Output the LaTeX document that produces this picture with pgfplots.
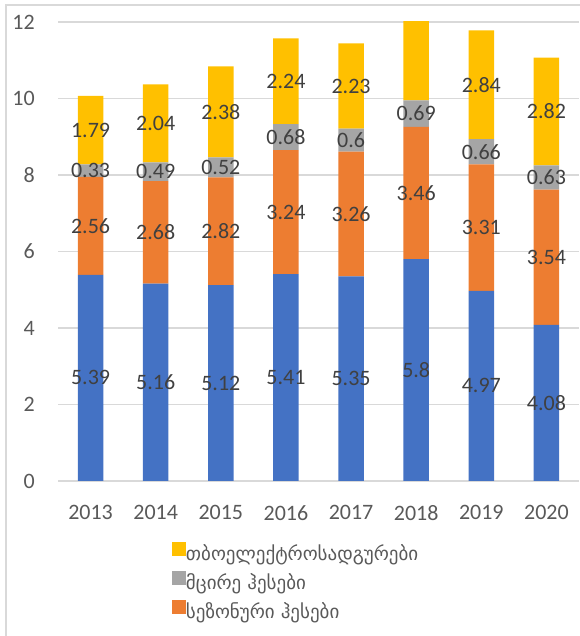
\documentclass[border=0pt]{standalone}
\usepackage{pgfplots}
\pgfplotsset{compat=1.18}
\usepackage{pgfplotstable}
\usepackage{fontspec}
\setmainfont{Carlito}
\newfontfamily\geofont{DejaVu Sans}
\definecolor{cblue}{HTML}{4472C4}
\definecolor{corange}{HTML}{ED7D31}
\definecolor{cgray}{HTML}{A5A5A5}
\definecolor{cyellow}{HTML}{FFC000}
\definecolor{gridc}{HTML}{D9D9D9}
\definecolor{tickc}{HTML}{595959}
\definecolor{labc}{HTML}{404040}

\pgfplotstableread{
x  reg   seas  small thermal
0  5.39  2.56  0.33  1.79
1  5.16  2.68  0.49  2.04
2  5.12  2.82  0.52  2.38
3  5.41  3.24  0.68  2.24
4  5.35  3.26  0.60  2.23
5  5.80  3.46  0.69  2.12
6  4.97  3.31  0.66  2.84
7  4.08  3.54  0.63  2.82
}\datatable

\begin{document}
\begin{tikzpicture}[x=1pt,y=1pt]
\useasboundingbox (0,0) rectangle (579,636);
\draw[gridc, line width=1.5pt] (6,-5) -- (6,631) -- (590,631);
\begin{axis}[
  at={(58pt,155pt)}, anchor=south west,
  scale only axis, width=521pt, height=459pt,
  ybar stacked, bar width=25.5pt,
  xmin=-0.5, xmax=7.5, ymin=0, ymax=12,
  xtick={0,...,7},
  xticklabels={2013,2014,2015,2016,2017,2018,2019,2020},
  ytick={0,2,...,12},
  ymajorgrids, grid style={gridc, line width=1.3pt},
  axis line style={draw=none},
  major tick length=0pt,
  tick style={draw=none},
  /pgf/number format/assume math mode=true,
  ticklabel style={font=\fontsize{22}{26}\selectfont, text=tickc, inner sep=0pt},
  yticklabel style={anchor=east, xshift=-23pt},
  xticklabel style={anchor=north, yshift=-24pt},
  nodes near coords,
  every node near coord/.append style={font=\fontsize{22}{26}\selectfont, text=labc, anchor=center, inner sep=0pt},
  legend image code/.code={\fill[#1, draw=none] (0pt,-1pt) rectangle (14pt,13pt);},
  reverse legend,
  legend cell align=left,
  legend style={at={(axis description cs:0.2188,-0.133)}, anchor=north west, draw=none, fill=none,
    inner sep=0pt, outer sep=0pt, row sep=7pt,
    font=\geofont\fontsize{19}{22}\selectfont, text=tickc,
    nodes={inner sep=0pt, text height=14pt, text depth=4pt},
    /tikz/every even column/.append style={column sep=5pt}},
]
\addplot+[forget plot, fill=cblue, draw=none, point meta=\thisrow{reg}] table[x=x, y=reg] {\datatable};
\addplot+[fill=corange, draw=none, point meta=\thisrow{seas}] table[x=x, y=seas] {\datatable};
\addplot+[fill=cgray, draw=none, point meta=\thisrow{small}] table[x=x, y=small] {\datatable};
\addplot+[fill=cyellow, draw=none, point meta=\thisrow{thermal}] table[x=x, y=thermal] {\datatable};
\legend{სეზონური ჰესები, მცირე ჰესები, თბოელექტროსადგურები}
\end{axis}
\end{tikzpicture}
\end{document}
